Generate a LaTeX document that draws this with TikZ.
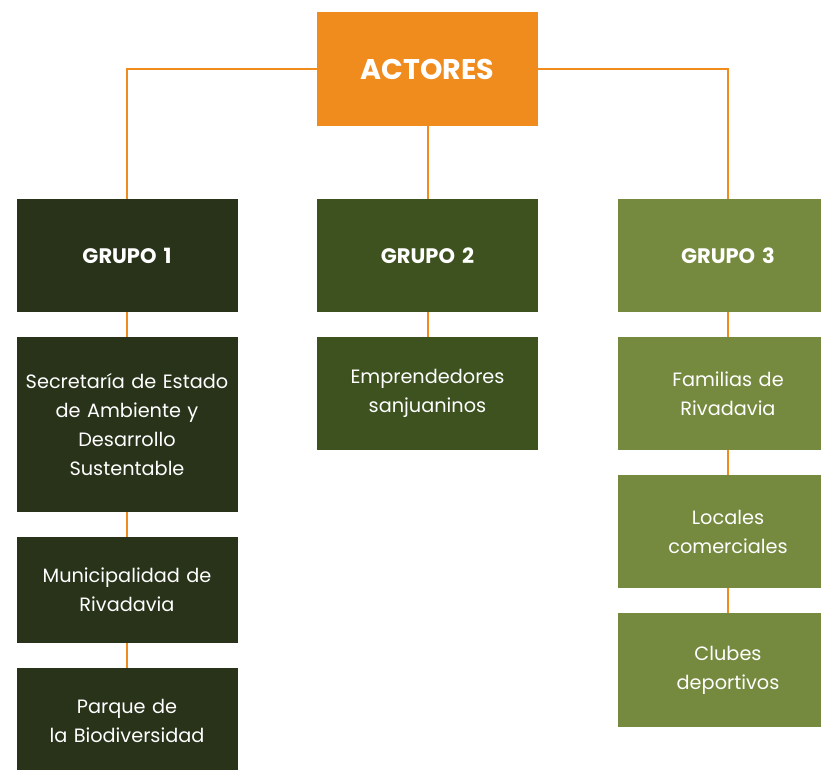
\documentclass[tikz,border=0pt]{standalone}
\usepackage{fontspec}
\setmainfont{Poppins}
\usepackage{tikz}
\usetikzlibrary{positioning}
\definecolor{actorange}{HTML}{F08C1E}
\definecolor{grpone}{HTML}{28331A}
\definecolor{grptwo}{HTML}{3D521F}
\definecolor{grpthree}{HTML}{758A3F}
\begin{document}
\begin{tikzpicture}[x=1pt,y=-1pt,
  box/.style={inner sep=0pt,minimum width=221pt,text=white,align=center,text width=216pt},
  head/.style={box,font=\fontsize{21}{24}\selectfont\bfseries},
  item/.style={box,font=\fontsize{19.3}{29}\selectfont},
  link/.style={draw=actorange,line width=2pt}]
\fill[white] (0,0) rectangle (821,770);
\useasboundingbox (0,0) rectangle (821,770);
\node[head,fill=actorange,minimum height=114pt,font=\fontsize{28.5}{32}\selectfont\bfseries] (act) at (427.5,69) {ACTORES};
\node[head,fill=grpone,minimum height=113pt] (g1) at (127,255.5) {GRUPO 1};
\node[head,fill=grptwo,minimum height=113pt] (g2) at (427.5,255.5) {GRUPO 2};
\node[head,fill=grpthree,minimum height=113pt] (g3) at (728,255.5) {GRUPO 3};
% grupo 1
\node[item,fill=grpone,minimum height=175pt] (sec) at (127,424.5) {Secretaría de Estado\\de Ambiente y\\Desarrollo\\Sustentable};
\node[item,fill=grpone,minimum height=106pt] (muni) at (127,590) {Municipalidad de\\Rivadavia};
\node[item,fill=grpone,minimum height=106pt] (parq) at (127,721) {Parque de\\la Biodiversidad};
% grupo 2
\node[item,fill=grptwo,minimum height=113pt] (empr) at (427.5,393.5) {Emprendedores\\sanjuaninos};
% grupo 3
\node[item,fill=grpthree,minimum height=113pt] (fam) at (728,393.5) {Familias de\\Rivadavia};
\node[item,fill=grpthree,minimum height=113pt] (loc) at (728,531.5) {Locales\\comerciales};
\node[item,fill=grpthree,minimum height=114pt] (club) at (728,670) {Clubes\\deportivos};
\draw[link] (act.west) -| (g1.north);
\draw[link] (act.east) -| (g3.north);
\draw[link] (act.south) -- (g2.north);
\draw[link] (g1.south) -- (sec.north);
\draw[link] (sec.south) -- (muni.north);
\draw[link] (muni.south) -- (parq.north);
\draw[link] (g2.south) -- (empr.north);
\draw[link] (g3.south) -- (fam.north);
\draw[link] (fam.south) -- (loc.north);
\draw[link] (loc.south) -- (club.north);
\end{tikzpicture}
\end{document}
